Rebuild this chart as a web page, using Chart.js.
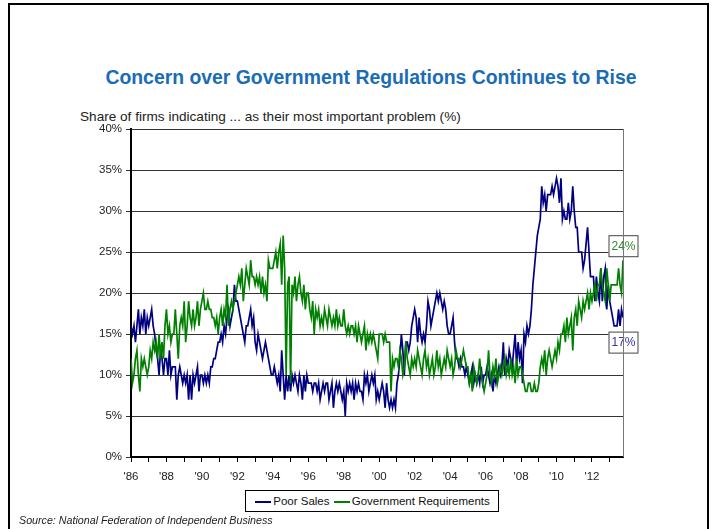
<!DOCTYPE html>
<html>
<head>
<meta charset="utf-8">
<script src="https://cdn.jsdelivr.net/npm/chart.js@4.4.0/dist/chart.umd.min.js"></script>
<style>
body{margin:0;width:715px;height:529px;position:relative;overflow:hidden;background:#fff;font-family:"Liberation Sans",Arial,sans-serif;}
#frame{position:absolute;left:8px;top:3px;width:697px;height:560px;border:2px solid #000;}
#title{position:absolute;left:0;width:742px;top:66px;text-align:center;color:#1a6cb5;font-weight:bold;font-size:19.4px;}
#sub{position:absolute;left:80px;top:109px;font-size:13.6px;color:#222;}
#chart{position:absolute;left:0;top:0;}
#legend{position:absolute;left:245px;top:490px;width:252px;height:20px;border:1px solid #000;background:#fff;font-size:11.5px;color:#111;line-height:20px;text-align:center;white-space:nowrap;}
#legend span.ln{display:inline-block;width:16px;height:2px;vertical-align:middle;margin:0 2px 0 1px;}
#source{position:absolute;left:19px;top:514px;font-size:10.7px;font-style:italic;color:#222;}
</style>
</head>
<body>
<div id="frame"></div>
<div id="title">Concern over Government Regulations Continues to Rise</div>
<div id="sub">Share of firms indicating ... as their most important problem (%)</div>
<canvas id="chart" width="715" height="529"></canvas>
<div id="legend"><span class="ln" style="background:#000080"></span>Poor Sales <span class="ln" style="background:#008000"></span>Government Requirements</div>
<div id="source">Source: National Federation of Independent Business</div>
<script>
// monthly, starting Jan 1986
const startYear = 1986;

const poorSales = [
  16,15,16,14,16,18,15,17,16,18,15,17, // 86
  16,17,18,16,15,13,12,10,13,12,10,12,
  12,10,13,10,11,11,11,7,10,11,10,9,   // 88
  10,9,10,7,10,7,10,9,10,11,8,10,
  10,9,10,9,10,9,11,11,12,12,13,14,    // 90
  14,15,14,16,15,17,18,16,17,18,21,19,
  19,18,17,16,15,14,16,16,17,18,16,17, // 92
  14,13,15,14,13,12,13,14,13,12,11,10,
  10,11,10,9,10,8,13,10,7,10,8,10,     // 94
  8,10,9,10,9,8,10,9,7,10,8,10,
  9,9,9,8,9,9,8,9,7,8,9,8,             // 96
  9,9,7,8,9,6,8,9,8,9,8,7,
  8,5,9,8,9,8,9,7,9,8,9,8,             // 98
  8,7,10,9,10,8,9,10,9,10,7,8,
  7,8,9,8,6,9,7,6,7,6,7,6,             // 00
  9,10,12,15,13,10,14,14,13,14,16,17,
  18,17,14,17,15,14,15,14,16,19,18,16, // 02
  17,18,19,20,19,20,19,18,19,18,16,15,
  15,16,17,14,12,12,11,12,11,11,10,11, // 04
  10,9,10,11,9,10,9,10,9,11,9,10,
  10,11,10,9,10,8,10,9,10,11,10,11,    // 06
  14,10,12,11,13,12,11,13,15,11,14,12,
  13,9,15,14,16,15,16,18,21,23,25,27,  // 08
  28,29,33,31,32,30,32,32,32,33,32,33,
  34,33,31,34,29,30,29,29,31,29,30,33, // 10
  30,28,28,25,25,25,23,24,26,28,25,22,
  22,22,19,22,20,19,23,19,22,23,18,21, // 12
  19,18,17,16,16,16,18,16,18,17
];

const govReq = [
  12,9,10,12,13,10,8,12,11,12,11,10,   // 86
  11,13,12,14,13,14,12,15,12,14,12,16,
  18,15,16,14,15,15,18,15,12,16,17,16, // 88
  19,14,16,19,17,16,18,16,17,19,16,18,
  19,20,18,18,19,18,18,17,17,16,17,15, // 90
  17,18,16,18,17,21,16,18,19,18,19,20,
  21,22,21,23,19,21,23,22,21,24,22,22, // 92
  21,22,21,22,20,22,20,21,19,24,23,23,
  23,24,25,23,25,26,21,27,23,10,21,22, // 94
  9,21,20,22,19,21,22,20,19,21,18,20,
  20,18,17,19,15,18,17,18,16,17,16,18, // 96
  17,16,18,17,16,17,16,18,16,17,16,16,
  18,16,15,16,15,16,16,15,16,14,16,15, // 98
  14,15,16,13,15,14,15,14,15,14,13,12,
  15,15,15,14,15,14,14,14,8,12,11,12,  // 00
  12,11,13,12,10,11,14,12,11,10,12,11,
  12,11,13,12,11,10,12,13,11,12,10,11, // 02
  12,10,11,13,11,12,10,11,12,11,13,12,
  11,12,10,11,13,12,12,11,12,13,12,11, // 04
  11,9,10,8,11,10,9,10,12,10,9,8,
  9,10,13,10,9,11,10,12,9,10,11,10,    // 06
  11,12,10,11,10,12,10,11,9,12,10,11,
  11,10,9,8,8,9,9,8,8,9,8,8,           // 08
  9,11,12,11,13,10,12,13,12,11,12,13,
  12,14,13,15,15,16,14,17,15,16,17,13, // 10
  17,18,16,19,18,17,19,18,19,20,18,20,
  19,20,21,19,21,21,23,21,20,19,23,21, // 12
  19,21,21,21,21,21,23,21,20,24
];

const yTicks = [0, 5, 10, 15, 20, 25, 30, 35, 40];
const labelEvery = 2;

function toPoints(arr) {
  return arr.map(function (v, i) { return { x: startYear + i / 12, y: v }; });
}

// boxes with the latest value at the end of each line
const endLabels = {
  id: 'endLabels',
  afterDatasetsDraw(chart) {
    const ctx = chart.ctx;
    chart.data.datasets.forEach(function (ds, i) {
      const meta = chart.getDatasetMeta(i);
      const pt = meta.data[meta.data.length - 1];
      const v = ds.data[ds.data.length - 1].y;
      const w = 29, h = 21;
      const x0 = pt.x - w / 2;
      const y0 = ds.labelPos == 'above' ? pt.y - 4 - h : pt.y + 14;
      ctx.save();
      ctx.fillStyle = '#fff';
      ctx.fillRect(x0, y0, w, h);
      ctx.strokeStyle = '#444';
      ctx.lineWidth = 1;
      ctx.strokeRect(x0 + 0.5, y0 + 0.5, w, h);
      ctx.fillStyle = ds.labelColor;
      ctx.font = '12px "Liberation Sans", Arial, sans-serif';
      ctx.textAlign = 'center';
      ctx.textBaseline = 'middle';
      ctx.fillText(v + '%', x0 + w / 2 + 0.5, y0 + h / 2 + 1);
      ctx.restore();
    });
  },
  afterDraw(chart) {
    const a = chart.chartArea;
    const ctx = chart.ctx;
    ctx.save();
    ctx.strokeStyle = '#777';
    ctx.lineWidth = 1;
    ctx.beginPath();
    ctx.moveTo(a.right + 0.5, a.top);
    ctx.lineTo(a.right + 0.5, a.bottom);
    ctx.stroke();
    ctx.restore();
  }
};

new Chart(document.getElementById('chart'), {
  type: 'line',
  data: {
    datasets: [{
      label: 'Poor Sales',
      data: toPoints(poorSales),
      borderColor: '#000080',
      labelColor: '#333399',
      labelPos: 'below',
      order: 1
    }, {
      label: 'Government Requirements',
      data: toPoints(govReq),
      borderColor: '#008000',
      labelColor: '#2e8b2e',
      labelPos: 'above',
      order: 0
    }]
  },
  options: {
    responsive: false,
    animation: false,
    events: [],
    elements: {
      point: { radius: 0 },
      line: { borderWidth: 1.7, tension: 0 }
    },
    layout: { padding: { top: 129, right: 92, left: 0, bottom: 0 } },
    plugins: { legend: { display: false }, tooltip: { enabled: false } },
    scales: {
      x: {
        type: 'linear',
        min: 1986,
        max: 2013.75,
        afterFit: function (s) { s.height = 72; },
        ticks: {
          stepSize: 1,
          autoSkip: false,
          maxRotation: 0,
          includeBounds: false,
          color: '#222',
          font: { size: 11.5, family: '"Liberation Sans", Arial, sans-serif' },
          padding: 8,
          callback: function (v) {
            if (v % labelEvery != 0) return '';
            return "'" + String(v).slice(2);
          }
        },
        grid: { drawOnChartArea: false, drawTicks: true, tickLength: 5, color: '#000' },
        border: { color: '#000', width: 2 }
      },
      y: {
        min: 0,
        max: 40,
        afterFit: function (s) { s.width = 131; },
        afterBuildTicks: function (s) { s.ticks = yTicks.map(function (v) { return { value: v }; }); },
        ticks: {
          color: '#222',
          font: { size: 11.5, family: '"Liberation Sans", Arial, sans-serif' },
          padding: 4,
          callback: function (v) { return v + '%'; }
        },
        grid: { color: '#333', lineWidth: 1, tickLength: 5 },
        border: { color: '#000', width: 2 }
      }
    }
  },
  plugins: [endLabels]
});
</script>
</body>
</html>
